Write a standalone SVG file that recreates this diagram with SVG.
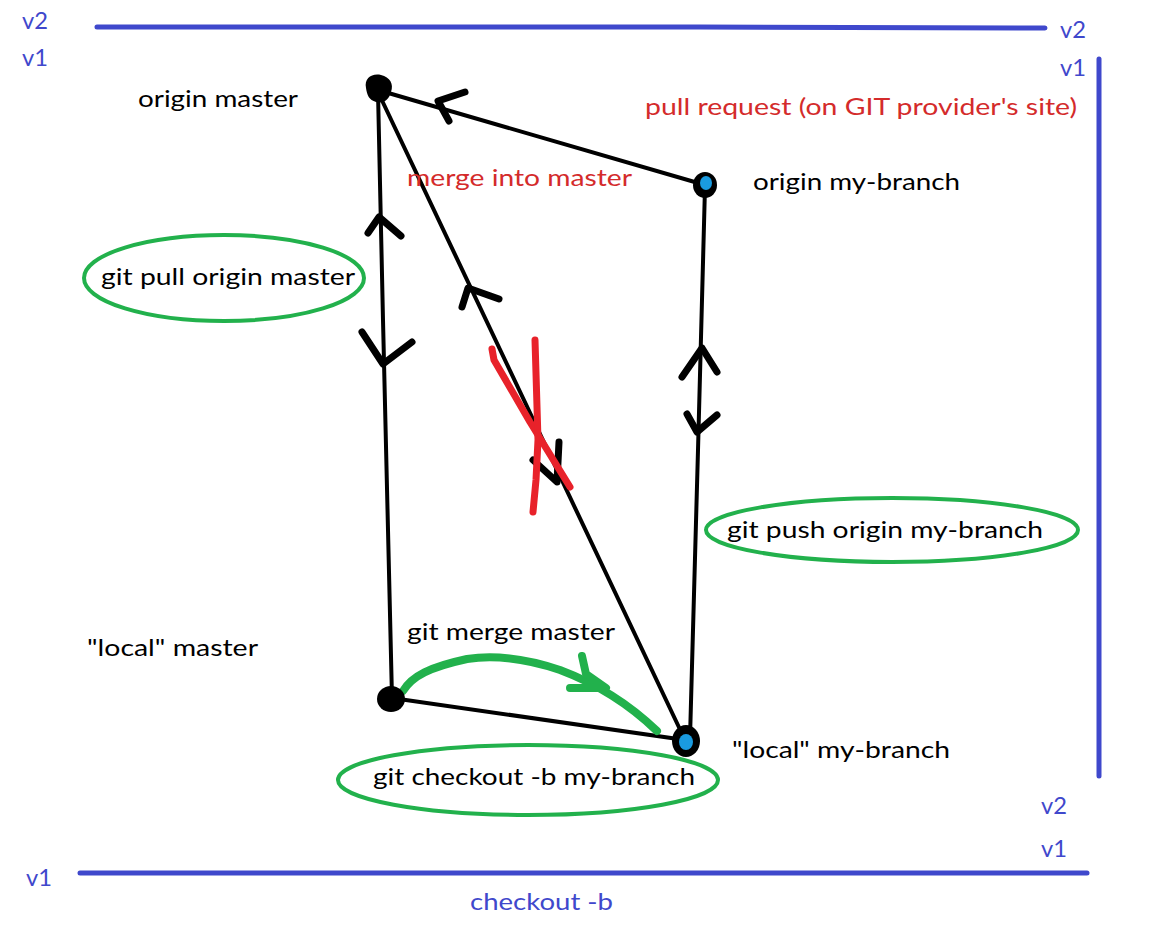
<svg xmlns="http://www.w3.org/2000/svg" width="1152" height="932" viewBox="0 0 1152 932">
<style>
text{font-family:"Lato","Liberation Sans",sans-serif;font-size:24px}
.k{fill:#000}
.r{fill:#d42b2b}
.b{fill:#3f48cc}
.edge{stroke:#000;stroke-width:4;fill:none;stroke-linecap:round;stroke-linejoin:round}
.chev{stroke:#000;stroke-width:7;fill:none;stroke-linecap:round;stroke-linejoin:round}
.blue{stroke:#3f48cc;stroke-width:5;fill:none;stroke-linecap:round}
.green{stroke:#22b14c;stroke-width:4;fill:none}
.gstroke{stroke:#22b14c;stroke-width:8;fill:none;stroke-linecap:round;stroke-linejoin:round}
.red{stroke:#e8222a;stroke-width:7;fill:none;stroke-linecap:round;stroke-linejoin:round}
.blob{fill:#000}
.core{fill:#1a9be0}
</style>
<rect width="1152" height="932" fill="#fff"/>

<g id="frame">
<path class="blue" d="M97 27 L700 27 L1045 28"/>
<path class="blue" d="M1099 59 L1099 776"/>
<path class="blue" d="M80 873 L1087 873"/>
<text class="b" x="22" y="29" textLength="26" lengthAdjust="spacingAndGlyphs">v2</text>
<text class="b" x="22" y="66" textLength="26" lengthAdjust="spacingAndGlyphs">v1</text>
<text class="b" x="1060" y="38" textLength="26" lengthAdjust="spacingAndGlyphs">v2</text>
<text class="b" x="1060" y="76" textLength="26" lengthAdjust="spacingAndGlyphs">v1</text>
<text class="b" x="1041" y="814" textLength="26" lengthAdjust="spacingAndGlyphs">v2</text>
<text class="b" x="1041" y="857" textLength="26" lengthAdjust="spacingAndGlyphs">v1</text>
<text class="b" x="26" y="886" textLength="26" lengthAdjust="spacingAndGlyphs">v1</text>
<text class="b" x="470" y="910" textLength="143" lengthAdjust="spacingAndGlyphs">checkout -b</text>
</g>

<g id="connectors">
<path class="edge" d="M378 90 L705 185"/>
<path class="edge" d="M378 92 L383 320 L392 698"/>
<path class="edge" d="M378 92 L685 740"/>
<path class="edge" d="M705 187 L698 450 L690 738"/>
<path class="edge" d="M392 698 L685 740"/>
<path class="chev" d="M465 92 L438 101 L449 121"/>
<path class="chev" d="M368 233 L379 217 L401 236"/>
<path class="chev" d="M362 332 L383 364 L412 342"/>
<path class="chev" d="M462 307 L468 288 L499 299"/>
<path class="chev" d="M559 442 L557 482 L533 460"/>
<path class="chev" d="M682 377 L702 348 L717 372"/>
<path class="chev" d="M687 414 L697 432 L717 415"/>
<path class="red" d="M492 349 L494 360 L530 422 L570 487"/>
<path class="red" d="M535 340 L538 440 L536 480 L533 512"/>
<path class="gstroke" d="M403 691 C412 676 430 667 467 659 C500 654 530 660 560 670 C600 685 630 705 657 731"/>
<path class="gstroke" d="M582 656 L586 674 L606 688 L570 688"/>
</g>

<g id="origin-master">
<path class="blob" d="M366 88 C364 78 372 73 381 75 C390 77 394 84 391 92 C389 100 383 104 376 102 C369 100 367 95 366 88 Z"/>
<text class="k" x="138" y="107" textLength="160" lengthAdjust="spacingAndGlyphs">origin master</text>
</g>

<g id="origin-my-branch">
<ellipse class="blob" cx="705" cy="185" rx="12" ry="13"/>
<ellipse class="core" cx="706" cy="183" rx="6" ry="7"/>
<text class="k" x="753" y="190" textLength="207" lengthAdjust="spacingAndGlyphs">origin my-branch</text>
</g>

<g id="local-master">
<ellipse class="blob" cx="391" cy="699" rx="14" ry="13"/>
<text class="k" x="87" y="656" textLength="171" lengthAdjust="spacingAndGlyphs">"local" master</text>
</g>

<g id="local-my-branch">
<ellipse class="blob" cx="686" cy="741" rx="14" ry="16"/>
<ellipse class="core" cx="686" cy="742" rx="7" ry="8"/>
<text class="k" x="732" y="758" textLength="218" lengthAdjust="spacingAndGlyphs">"local" my-branch</text>
</g>

<g id="pull-request-label">
<text class="r" x="645" y="115" textLength="432" lengthAdjust="spacingAndGlyphs">pull request (on GIT provider's site)</text>
</g>
<g id="merge-into-master-label">
<text class="r" x="407" y="186" textLength="225" lengthAdjust="spacingAndGlyphs">merge into master</text>
</g>

<g id="git-pull">
<ellipse class="green" cx="224" cy="278" rx="140" ry="43"/>
<text class="k" x="101" y="285" textLength="254" lengthAdjust="spacingAndGlyphs">git pull origin master</text>
</g>

<g id="git-push">
<ellipse class="green" cx="892" cy="530" rx="186" ry="32"/>
<text class="k" x="727" y="538" textLength="316" lengthAdjust="spacingAndGlyphs">git push origin  my-branch</text>
</g>

<g id="git-merge">
<text class="k" x="407" y="640" textLength="208" lengthAdjust="spacingAndGlyphs">git merge master</text>
</g>

<g id="git-checkout">
<ellipse class="green" cx="528" cy="780" rx="190" ry="35"/>
<text class="k" x="373" y="785" textLength="322" lengthAdjust="spacingAndGlyphs">git checkout -b my-branch</text>
</g>
</svg>
